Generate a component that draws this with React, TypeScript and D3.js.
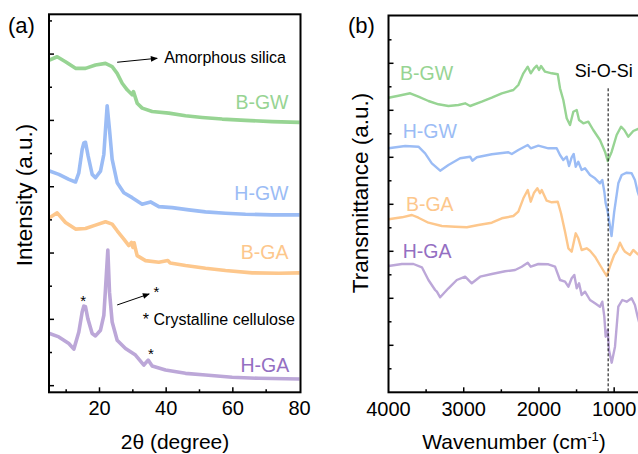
import React from "react";
import * as d3 from "d3";

// XRD: [2theta (degree), intensity a.u.]
const bgwXrd: [number, number][] = [[5,4911],[7.3,4960],[9.8,4885],[12.8,4785],[15.8,4785],[18.8,4836],[21.8,4860],[23.8,4810],[25.3,4710],[26.8,4560],[28.3,4461],[29.8,4386],[30.2,4435],[30.6,4370],[31.3,4260],[32.8,4185],[35.8,4135],[40.8,4110],[45.8,4071],[50.8,4045],[56.8,4020],[63.8,4000],[71.8,3981],[80,3970]];
const hgwXrd: [number, number][] = [[5,3236],[7.8,3186],[10.8,3111],[12.8,3071],[13.8,3210],[14.8,3561],[15.3,3660],[15.8,3670],[16.6,3461],[17.8,3186],[18.8,3135],[20.3,3236],[21.3,3486],[21.8,3861],[22.3,4221],[23,3861],[23.8,3411],[25.3,3060],[27.3,2910],[29.8,2835],[32.8,2736],[35.3,2771],[37.8,2700],[41.8,2685],[46.8,2651],[51.8,2621],[57.8,2601],[63.8,2586],[71.8,2576],[80,2576]];
const bgaXrd: [number, number][] = [[5,2531],[7.3,2606],[9.8,2460],[12.8,2361],[15.8,2370],[18.8,2421],[21.8,2471],[23.8,2436],[25.3,2336],[27.3,2211],[28.8,2111],[29.6,2160],[30,2085],[30.4,2155],[30.8,2060],[31.3,1961],[33.8,1886],[37.8,1860],[40.5,1886],[41.2,1850],[45.8,1811],[51.8,1770],[57.8,1736],[65.8,1701],[73.8,1695],[80,1701]];
const hgaXrd: [number, number][] = [[5,786],[7.8,735],[10.8,636],[12.3,551],[13.8,810],[14.8,1110],[15.3,1200],[15.8,1190],[16.5,1011],[17.8,786],[18.8,750],[20.3,836],[21.3,1061],[21.8,1461],[22.5,2046],[23,1410],[23.8,960],[25.3,686],[27.8,561],[30.8,461],[33.3,311],[34.6,386],[35.8,296],[39.8,236],[45.8,186],[51.8,161],[59.8,126],[67.8,111],[80,101]];

// FTIR: [wavenumber cm-1, transmittance a.u.]
const bgwFtir: [number, number][] = [[4000,294.6],[3867,296.6],[3712,299],[3602,295.6],[3469,291.3],[3336,288],[3203,286.3],[3070,287.3],[2981,289],[2915,286.3],[2760,290.6],[2627,294.6],[2494,299],[2340,302.3],[2274,307.3],[2207,319],[2149,325.6],[2109,319],[2065,324],[2029,326.6],[1999,322.3],[1972,326.3],[1919,320.6],[1830,319],[1750,318],[1720,304],[1676,292.3],[1631,274],[1587,267.3],[1543,280.6],[1498,282.3],[1467,272.3],[1410,269],[1344,270.6],[1278,262.3],[1189,252.3],[1122,240.6],[1086,231.3],[1033,240.6],[967,257.3],[909,265.6],[865,262.3],[813,255.6],[746,261.3],[688,263.3],[650,262]];
const hgwFtir: [number, number][] = [[4000,244],[3778,246.3],[3602,245.6],[3513,239],[3424,229],[3313,221.6],[3203,227.3],[3048,234],[2915,235.6],[2885,231.6],[2826,235],[2627,238],[2406,240],[2361,238.3],[2274,242.3],[2149,247.3],[2109,244],[2008,246.6],[1875,244],[1764,244],[1720,237.3],[1676,232.3],[1631,235.6],[1600,226.3],[1565,235],[1538,238.3],[1511,225.6],[1477,230.6],[1432,222.3],[1388,224],[1321,217.3],[1255,214],[1189,209],[1158,212.3],[1131,200.6],[1113,189],[1086,180.6],[1035,156.3],[1000,180.3],[945,209],[900,217.3],[834,219.6],[768,219],[724,212.3],[688,200.6],[650,192]];
const bgaFtir: [number, number][] = [[4000,173],[3822,175],[3689,177.3],[3602,174.6],[3469,169.6],[3291,166.3],[3114,165.6],[2959,165],[2805,167.3],[2627,169.6],[2494,174],[2340,176.3],[2274,180.6],[2207,194],[2149,202.3],[2109,190.6],[2065,199.6],[2021,204],[1986,199],[1963,202.3],[1897,191.6],[1830,190],[1750,190.6],[1707,179],[1653,160.6],[1609,144],[1565,140.6],[1511,159],[1477,154],[1432,142.3],[1366,144],[1321,141.6],[1255,135.6],[1189,127.3],[1100,116.3],[1050,127.3],[1000,137.3],[960,142],[923,149.6],[880,143],[856,140.6],[790,137.3],[746,142.3],[688,138.3],[650,136]];
const hgaFtir: [number, number][] = [[4000,126.3],[3822,128.3],[3668,128.3],[3556,125],[3469,112.3],[3380,102.3],[3357,100.6],[3313,95],[3203,104],[3092,112.3],[2981,115.6],[2893,109],[2782,115.6],[2627,118.3],[2450,121],[2317,122.3],[2229,125.6],[2149,129.6],[2109,125.6],[2008,128.3],[1875,128],[1786,125.6],[1720,112.3],[1653,110.6],[1609,105.6],[1565,114],[1530,117.3],[1498,104],[1467,109],[1432,97.3],[1388,100.6],[1321,92.3],[1255,89],[1189,85.6],[1158,90.6],[1131,75.6],[1113,55.6],[1086,62.3],[1069,42.3],[1033,29.6],[989,45.6],[945,85.6],[892,92.3],[834,90.6],[768,94],[724,87.3],[688,75.6],[650,65]];

const sampleNames = ["B-GW", "H-GW", "B-GA", "H-GA"];
const lineColors = ["#97d493", "#9bbcf5", "#fdc78c", "#bca7d8"];
const labelColors = ["#97d493", "#9bbcf5", "#fdc78c", "#946fc2"];
const xrdTicks = [20, 40, 60, 80];
const ftirTicks = [4000, 3000, 2000, 1000];
const siOSi = 1080;

const font = "'Liberation Sans', Arial, sans-serif";

export default function App() {
  // panel (a)
  const xa = d3.scaleLinear().domain([5, 80]).range([49.5, 299.5]);
  const ya = d3.scaleLinear().domain([-100, 5600]).range([392.3, 14.3]);
  // panel (b)
  const xb = d3.scaleLinear().domain([4000, 650]).range([388.5, 640.5]);
  const yb = d3.scaleLinear().domain([0, 376]).range([392.3, 16.3]);

  const lineA = d3.line<[number, number]>().x(d => xa(d[0])).y(d => ya(d[1]));
  const lineB = d3.line<[number, number]>().x(d => xb(d[0])).y(d => yb(d[1]));

  const xrd = [bgwXrd, hgwXrd, bgaXrd, hgaXrd];
  const ftir = [bgwFtir, hgwFtir, bgaFtir, hgaFtir];

  const aLabelPos: [number, number][] = [[76.7, 4170], [76.7, 2800], [76.7, 1911], [76.9, 199]];
  const bLabelPos: [number, number][] = [[3847, 312], [3811, 254], [3768, 181], [3811, 134]];

  const axL = 49, axR = 300.5, axT = 14.3, axB = 392.3;
  const bxL = 388.5, bxR = 640.5, bxT = 15.5, bxB = 392.3;

  return (
    <svg width={638} height={454} style={{ position: "absolute", left: 0, top: 0, background: "#fff" }} fontFamily={font}>
      <defs>
        <marker id="arr" viewBox="0 0 10 10" refX="9" refY="5" markerWidth="9" markerHeight="7" orient="auto" markerUnits="userSpaceOnUse">
          <path d="M0,1 L10,5 L0,9 z" fill="#000" />
        </marker>
        <clipPath id="clipA"><rect x={axL} y={axT} width={axR - axL} height={axB - axT} /></clipPath>
        <clipPath id="clipB"><rect x={bxL} y={bxT} width={bxR - bxL} height={bxB - bxT} /></clipPath>
      </defs>

      {/* ---------- panel (a) ---------- */}
      <g clipPath="url(#clipA)">
        {xrd.map((d, i) => (
          <path key={i} d={lineA(d) || ""} fill="none" stroke={lineColors[i]} strokeWidth={3.6} strokeLinejoin="round" />
        ))}
      </g>
      <rect x={axL} y={axT} width={axR - axL} height={axB - axT} fill="none" stroke="#000" strokeWidth={2} />
      {d3.range(10, 80, 10).map(t => (
        <line key={t} x1={xa(t)} x2={xa(t)} y1={axB} y2={axB - (t % 20 === 0 ? 5 : 3)} stroke="#000" strokeWidth={1.5} />
      ))}
      {d3.range(0, 5600, 500).map(t => (
        <line key={t} x1={axL} x2={axL + (t % 1000 === 0 ? 5 : 3)} y1={ya(t)} y2={ya(t)} stroke="#000" strokeWidth={1.5} />
      ))}
      {xrdTicks.map(t => (
        <text key={t} x={xa(t)} y={415} fontSize={20} textAnchor="middle">{t}</text>
      ))}
      {sampleNames.map((n, i) => (
        <text key={n} x={xa(aLabelPos[i][0])} y={ya(aLabelPos[i][1])} fontSize={19.5} textAnchor="end" fill={labelColors[i]}>{n}</text>
      ))}
      <line x1={xa(25.3)} y1={ya(4877)} x2={xa(37.3)} y2={ya(4937)} stroke="#000" strokeWidth={1} markerEnd="url(#arr)" />
      <text x={xa(39.4)} y={ya(4866)} fontSize={16}>Amorphous silica</text>
      <line x1={xa(25.3)} y1={ya(1217)} x2={xa(34.9)} y2={ya(1383)} stroke="#000" strokeWidth={1} markerEnd="url(#arr)" />
      <text x={xa(37.1)} y={ya(1338)} fontSize={15} textAnchor="middle">*</text>
      <text x={xa(15.1)} y={ya(1194)} fontSize={15} textAnchor="middle">*</text>
      <text x={xa(35.4)} y={ya(403)} fontSize={15} textAnchor="middle">*</text>
      <text x={xa(33.0)} y={ya(915)} fontSize={16}>* Crystalline cellulose</text>
      <text x={8} y={33} fontSize={22}>(a)</text>
      <text transform="translate(32,195) rotate(-90)" fontSize={22.5} textAnchor="middle">Intensity (a.u.)</text>
      <text x={175} y={449} fontSize={21} textAnchor="middle">2θ (degree)</text>

      {/* ---------- panel (b) ---------- */}
      <g clipPath="url(#clipB)">
        {ftir.map((d, i) => (
          <path key={i} d={lineB(d) || ""} fill="none" stroke={lineColors[i]} strokeWidth={2.4} strokeLinejoin="round" />
        ))}
        <line x1={xb(siOSi)} x2={xb(siOSi)} y1={yb(304)} y2={bxB} stroke="#000" strokeWidth={1} strokeDasharray="3,2" />
      </g>
      <rect x={bxL} y={bxT} width={bxR - bxL} height={bxB - bxT} fill="none" stroke="#000" strokeWidth={2} />
      {d3.range(3500, 650, -500).map(t => (
        <line key={t} x1={xb(t)} x2={xb(t)} y1={bxB} y2={bxB - (t % 1000 === 0 ? 5 : 3)} stroke="#000" strokeWidth={1.5} />
      ))}
      {d3.range(23.5, 376, 23.5).map((t, i) => (
        <line key={t} x1={bxL} x2={bxL + (i % 2 === 1 ? 5 : 3)} y1={yb(t)} y2={yb(t)} stroke="#000" strokeWidth={1.5} />
      ))}
      {ftirTicks.map(t => (
        <text key={t} x={xb(t)} y={416} fontSize={20} textAnchor="middle">{t}</text>
      ))}
      {sampleNames.map((n, i) => (
        <text key={n} x={xb(bLabelPos[i][0])} y={yb(bLabelPos[i][1])} fontSize={19.5} fill={labelColors[i]}>{n}</text>
      ))}
      <text x={xb(1523)} y={yb(315)} fontSize={18}>Si-O-Si</text>
      <text x={348} y={33} fontSize={22}>(b)</text>
      <text transform="translate(368,193) rotate(-90)" fontSize={22.5} textAnchor="middle">Transmittance (a.u.)</text>
      <text x={514} y={449} fontSize={21} textAnchor="middle">
        Wavenumber (cm<tspan fontSize={13} dy={-8}>-1</tspan><tspan dy={8}>)</tspan>
      </text>
    </svg>
  );
}
